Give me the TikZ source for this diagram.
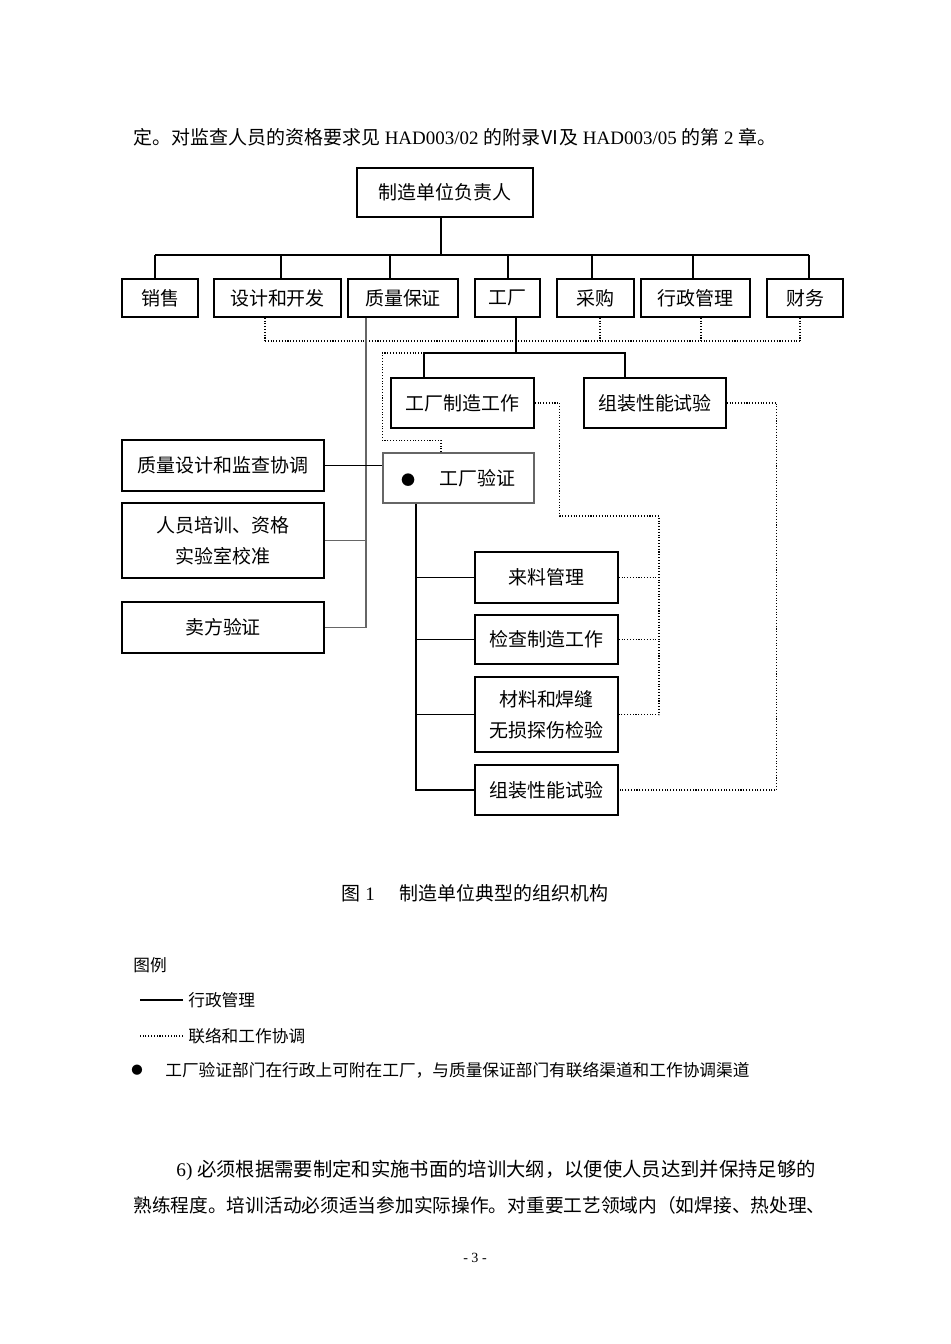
\documentclass[tikz,border=0pt]{standalone}
\usepackage{fontspec}
\setmainfont{Liberation Serif}
\newfontfamily\cjk{Noto Sans CJK SC}

\begin{document}
\begin{tikzpicture}[
        x=0.02cm, y=-0.02cm,
        box/.style={rectangle, draw, line width=0.9pt, inner sep=0pt, align=center, font=\cjk\fontsize{10.8}{17.6}\selectfont},
        rowbox/.style={box, minimum height=0.76cm},
        orgline/.style={line width=0.6pt},
        liaison/.style={densely dotted, line width=0.6pt},
        txt/.style={inner sep=0pt, anchor=west, font=\fontsize{10.8}{13}\selectfont}
    ]
        \fill[white] (0,0) rectangle (950,1344);
        \useasboundingbox (0,0) rectangle (950,1344);

        % Page text
        \node[txt] (intro) at (133,137) {{\cjk 定。对监查人员的资格要求见} HAD003/02 {\cjk 的附录Ⅵ及} HAD003/05 {\cjk 的第} 2 {\cjk 章。}};

        % Head and departments
        \node[box, minimum width=3.52cm, minimum height=0.98cm] (head) at (445,192.5) {制造单位负责人};
        \node[rowbox, minimum width=1.52cm] (sales) at (160,298) {销售};
        \node[rowbox, minimum width=2.54cm] (design) at (277.5,298) {设计和开发};
        \node[rowbox, minimum width=2.2cm] (qa) at (403,298) {质量保证};
        \node[rowbox, minimum width=1.3cm] (plant) at (507.5,298) {工厂};
        \node[rowbox, minimum width=1.54cm] (purch) at (595.5,298) {采购};
        \node[rowbox, minimum width=2.18cm] (admin) at (695.5,298) {行政管理};
        \node[rowbox, minimum width=1.52cm] (fin) at (805,298) {财务};

        % Plant units
        \node[box, minimum width=2.86cm, minimum height=1cm] (mfg) at (462.5,403) {工厂制造工作};
        \node[box, minimum width=2.84cm, minimum height=1cm] (asm1) at (655,403) {组装性能试验};
        \node[box, draw=black!60, minimum width=3.02cm, minimum height=1cm] (pv) at (458.5,478) {{\fontsize{8}{10}\selectfont ●}\hspace{1.3em}工厂验证};

        % QA units
        \node[box, minimum width=4.04cm, minimum height=1.02cm] (qdesign) at (223,465.5) {质量设计和监查协调};
        \node[box, minimum width=4.04cm, minimum height=1.5cm] (training) at (223,540.5) {人员培训、资格\\实验室校准};
        \node[box, minimum width=4.04cm, minimum height=1.02cm] (vendor) at (223,627.5) {卖方验证};

        % Verification units
        \node[box, minimum width=2.86cm, minimum height=1.02cm] (recv) at (546.5,577.5) {来料管理};
        \node[box, minimum width=2.86cm, minimum height=0.98cm] (insp) at (546.5,639.5) {检查制造工作};
        \node[box, minimum width=2.86cm, minimum height=1.5cm] (ndt) at (546.5,714.5) {材料和焊缝\\无损探伤检验};
        \node[box, minimum width=2.86cm, minimum height=1cm] (asm2) at (546.5,790) {组装性能试验};

        % Bus levels
        \coordinate (bus) at (0,255);
        \coordinate (dbus) at (0,341);
        \coordinate (pbus) at (0,353);
        \coordinate (lv) at (659,516);

        % Administration lines
        \draw[orgline] ([xshift=-0.08cm]head.south) -- ([xshift=-0.08cm]head.south |- bus);
        \foreach \n/\dx in {sales/-0.1, design/0.07, qa/-0.26, purch/-0.07, admin/-0.05, fin/0.08}
            \draw[orgline] ([xshift=\dx cm]\n.north) -- ([xshift=\dx cm]\n.north |- bus);
        \draw[line width=1pt] ([xshift=0.01cm]plant.north) -- ([xshift=0.01cm]plant.north |- bus);
        \draw[orgline] ([xshift=-0.1cm]sales.north |- bus) -- ([xshift=0.08cm]fin.north |- bus);

        % Liaison between departments
        \foreach \n/\dx in {design/-0.25, purch/0.09, admin/0.11, fin/-0.1}
            \draw[liaison] ([xshift=\dx cm]\n.south) -- ([xshift=\dx cm]\n.south |- dbus);
        \draw[liaison] ([xshift=-0.25cm]design.south |- dbus) -- ([xshift=-0.1cm]fin.south |- dbus);

        % QA branch
        \coordinate (qadrop) at ([xshift=-0.74cm]qa.south);
        \draw[orgline, black!60] (qadrop) |- (vendor.east);
        \draw[orgline, black!60] (training.east) -- (training.east -| qadrop);
        \draw[orgline] (qdesign.east) -- (qdesign.east -| pv.west);

        % Plant branch
        \coordinate (pdrop) at ([xshift=0.17cm]plant.south);
        \coordinate (mfgtop) at ([xshift=-0.77cm]mfg.north);
        \coordinate (asmtop) at ([xshift=-0.6cm]asm1.north);
        \draw[orgline] (pdrop) -- (pdrop |- pbus);
        \draw[orgline] (mfgtop) -- (mfgtop |- pbus) -- (asmtop |- pbus) -- (asmtop);
        \draw[liaison] ([xshift=-0.35cm]pv.north) -- ++(0,-12) -| (pv.west |- pbus) -- (mfgtop |- pbus);

        % Verification spine
        \coordinate (spine) at ([xshift=-0.85cm]pv.south);
        \draw[line width=1.1pt] (spine) |- (asm2.west);
        \foreach \n in {recv, insp, ndt}
            \draw[orgline] (\n.west -| spine) -- (\n.west);

        % Liaison with verification
        \draw[liaison] (mfg.east) -- ++(25,0) |- (lv) -- (lv |- ndt.east) -- (ndt.east);
        \draw[liaison] (recv.east) -- (recv.east -| lv);
        \draw[liaison] (insp.east) -- (insp.east -| lv);
        \draw[liaison] (asm1.east) -- ++(50,0) |- (asm2.east);

        % Caption
        \node[font=\fontsize{10.8}{13}\selectfont] (cap) at (475,893) {{\cjk 图} 1\hspace{1.3em}{\cjk 制造单位典型的组织机构}};

        % Legend
        \node[txt, font=\cjk\fontsize{9.5}{12}\selectfont] (lgtitle) at (133,965) {图例};
        \node[txt, font=\cjk\fontsize{9.5}{12}\selectfont] (lgadmin) at (188,1000) {行政管理};
        \node[txt, font=\cjk\fontsize{9.5}{12}\selectfont] (lgliaison) at (188,1036) {联络和工作协调};
        \draw[orgline] ([xshift=-0.1cm]lgadmin.west) -- ++(-43,0);
        \draw[liaison] ([xshift=-0.1cm]lgliaison.west) -- ++(-43,0);
        \node[font=\cjk\fontsize{6.5}{8}\selectfont, inner sep=0pt] (lgbullet) at (137,1070) {●};
        \node[txt, font=\cjk\fontsize{9.5}{12}\selectfont] (lgnote) at (165,1070) {工厂验证部门在行政上可附在工厂，与质量保证部门有联络渠道和工作协调渠道};

        % Body text
        \node[txt, font=\fontsize{11}{13}\selectfont] (para1) at (176,1170) {6) {\cjk 必须根据需要制定和实施书面的培训大纲，以便使人员达到并保持足够的}};
        \node[txt, font=\fontsize{10.65}{13}\selectfont] (para2) at (133,1205) {{\cjk 熟练程度。培训活动必须适当参加实际操作。对重要工艺领域内（如焊接、热处理、}};
        \node[font=\fontsize{8}{10}\selectfont] (pgnum) at (475,1258) {- 3 -};

    \end{tikzpicture}
\end{document}
